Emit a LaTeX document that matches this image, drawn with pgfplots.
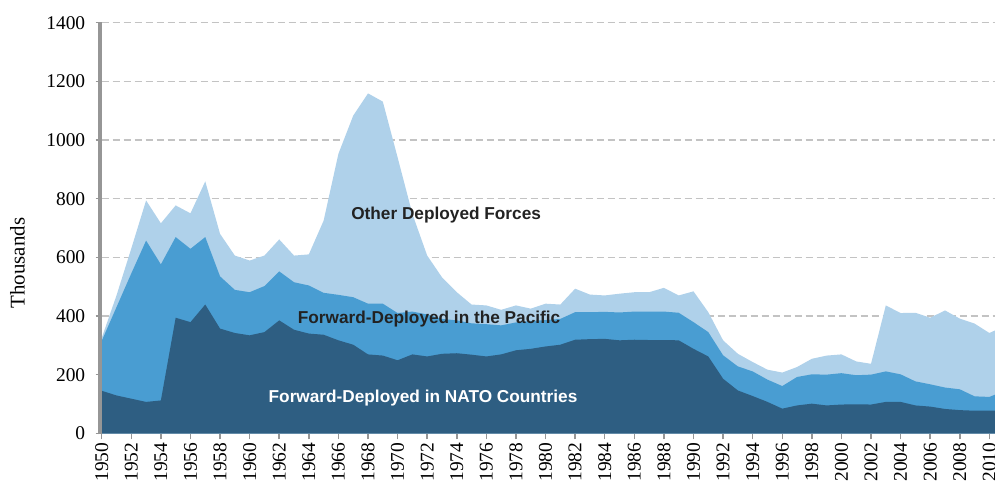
\documentclass[border=0pt]{standalone}
\usepackage{fontspec}
\setmainfont{Liberation Serif}
\newfontfamily\labfont{Liberation Sans}
\usepackage{pgfplots}
\usepackage{pgfplotstable}
\pgfplotsset{compat=1.18}
\definecolor{natoc}{RGB}{46,94,130}
\definecolor{pacc}{RGB}{73,157,210}
\definecolor{othc}{RGB}{175,209,234}
\definecolor{axgray}{RGB}{150,150,150}
\definecolor{gridgray}{RGB}{195,195,195}
\definecolor{txt}{RGB}{34,34,34}

\pgfplotstableread{
year nato pac tot
1950 145 315 325
1951 129 430 470
1952 118 545 630
1953 107 657 794
1954 112 576 716
1955 394 669 777
1956 379 629 750
1957 439 669 859
1958 357 535 680
1959 342 489 606
1960 334 481 589
1961 345 502 606
1962 385 552 661
1963 353 515 606
1964 340 504 610
1965 336 479 725
1966 317 472 953
1967 302 464 1083
1968 269 442 1159
1969 265 442 1131
1970 249 410 941
1971 269 415 748
1972 262 405 606
1973 271 390 532
1974 273 385 481
1975 268 375 439
1976 262 372 436
1977 269 368 421
1978 283 378 436
1979 288 383 425
1980 296 386 442
1981 302 390 439
1982 319 413 493
1983 321 413 473
1984 322 414 470
1985 317 412 476
1986 319 415 481
1987 318 415 481
1988 318 415 496
1989 317 411 470
1990 288 379 484
1991 262 345 413
1992 186 266 317
1993 146 228 271
1994 127 211 243
1995 107 183 217
1996 84 161 207
1997 95 192 226
1998 101 201 254
1999 95 200 265
2000 98 205 269
2001 99 198 245
2002 98 200 237
2003 107 211 436
2004 107 201 410
2005 95 177 411
2006 91 167 394
2007 83 156 419
2008 79 150 391
2009 77 126 374
2010 77 124 342
2011 78 144 365
}\data

\begin{document}
\begin{tikzpicture}
% grid only, drawn first so that the areas cover it
\begin{axis}[scale only axis, width=893.3bp, height=410.6bp,
  xmin=1950, xmax=2010.38, ymin=0, ymax=1400,
  axis line style={draw=none}, tick style={draw=none},
  xtick=\empty, ytick={200,400,...,1400}, yticklabels={},
  ymajorgrids,
  major grid style={gridgray, line width=1.3bp, dash pattern=on 7bp off 4bp},
]
\end{axis}
\begin{axis}[name=ax, scale only axis, width=893.3bp, height=410.6bp,
  xmin=1950, xmax=2010.38, ymin=0, ymax=1400,
  axis lines*=left,
  x axis line style={axgray, line width=2bp},
  y axis line style={draw=none},
  xtick={1950,1952,...,2010}, ytick={0,200,...,1400},
  tick align=outside, major tick length=6bp,
  tick style={axgray, line width=1.5bp},
  /pgf/number format/1000 sep={},
  /pgf/number format/assume math mode=true,
  ticklabel style={font=\fontsize{19.5}{19.5}\selectfont, text=black},
  yticklabel style={xshift=-7bp},
  xticklabel style={rotate=90, anchor=east},
  ylabel={Thousands},
  ylabel style={font=\fontsize{21}{21}\selectfont, at={(axis description cs:-0.0859,0.4148)}, anchor=south, inner sep=0pt},
]
\addplot[fill=othc, draw=none] table[x=year, y=tot]{\data} \closedcycle;
\addplot[fill=pacc, draw=none] table[x=year, y=pac]{\data} \closedcycle;
\addplot[fill=natoc, draw=none] table[x=year, y=nato]{\data} \closedcycle;
\node[font=\labfont\bfseries\fontsize{17.3}{17.3}\selectfont, text=txt, anchor=base] at (axis cs:1973.28,729.6) {Other Deployed Forces};
\node[font=\labfont\bfseries\fontsize{17.3}{17.3}\selectfont, text=txt, anchor=base] at (axis cs:1972.13,375) {Forward-Deployed in the Pacific};
\node[font=\labfont\bfseries\fontsize{17.3}{17.3}\selectfont, text=white, anchor=base] at (axis cs:1971.72,105.7) {Forward-Deployed in NATO Countries};
\end{axis}
\draw[axgray, line width=4bp] ([xshift=-1.6bp,yshift=-1bp]ax.south west) -- ([xshift=-1.6bp]ax.north west);
\pgfresetboundingbox
\path[use as bounding box] ([xshift=-101.7bp, yshift=-52.7bp]ax.south west) rectangle ([yshift=22.7bp]ax.north east);
\end{tikzpicture}
\end{document}
